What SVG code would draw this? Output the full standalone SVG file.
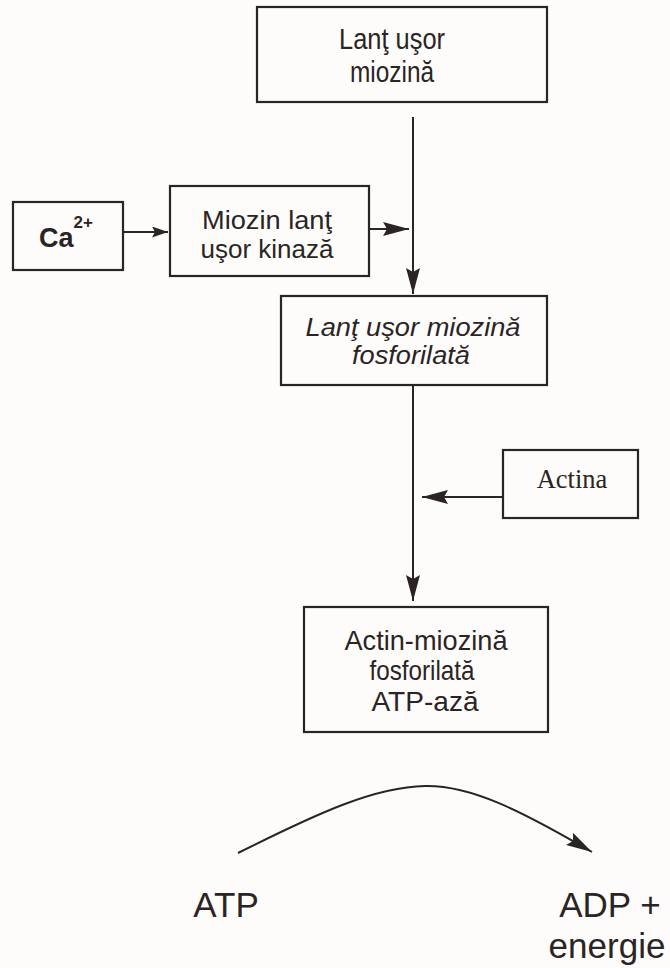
<svg xmlns="http://www.w3.org/2000/svg" width="670" height="968" viewBox="0 0 670 968">
  <style>
    .box { fill: none; stroke: #2b2424; stroke-width: 2.2; }
    .t { font-family: "Liberation Sans", Arial, sans-serif; fill: #2b2424; text-anchor: middle; }
    .serif { font-family: "Liberation Serif", "Times New Roman", serif; fill: #2b2424; text-anchor: middle; }
    .ln { fill: none; stroke: #2b2424; stroke-width: 2; }
  </style>
  <defs>
    <marker id="ahBig" viewBox="0 0 26 14" refX="26" refY="7" markerWidth="26" markerHeight="14" markerUnits="userSpaceOnUse" orient="auto">
      <path d="M0,0 L26,7 L0,14 L4,7 z" fill="#2b2424"/>
    </marker>
    <marker id="ahSmall" viewBox="0 0 16 11" refX="16" refY="5.5" markerWidth="16" markerHeight="11" markerUnits="userSpaceOnUse" orient="auto">
      <path d="M0,0 L16,5.5 L0,11 L3,5.5 z" fill="#2b2424"/>
    </marker>
  </defs>
  <rect width="670" height="968" fill="#fdfcfa"/>

  <g id="connectors">
    <line class="ln" x1="413" y1="117" x2="413" y2="294" marker-end="url(#ahBig)"/>
    <line class="ln" x1="123" y1="232" x2="168" y2="232" marker-end="url(#ahSmall)"/>
    <line class="ln" x1="369" y1="229" x2="409" y2="229" marker-end="url(#ahBig)"/>
    <line class="ln" x1="413" y1="385" x2="413" y2="601" marker-end="url(#ahBig)"/>
    <line class="ln" x1="503" y1="497" x2="422" y2="497" marker-end="url(#ahBig)"/>
    <path class="ln" d="M238,853 C320,812 375,787 425,786 C470,785 520,810 592,852" marker-end="url(#ahBig)"/>
  </g>

  <g id="node-lant-usor-miozina">
    <rect class="box" x="257" y="7" width="290" height="95"/>
    <text class="t" x="392" y="49" font-size="29" textLength="106" lengthAdjust="spacingAndGlyphs">Lanţ uşor</text>
    <text class="t" x="392" y="82" font-size="29" textLength="84" lengthAdjust="spacingAndGlyphs">miozină</text>
  </g>

  <g id="node-ca">
    <rect class="box" x="13" y="202" width="110" height="68"/>
    <text x="39" y="247" font-family="Liberation Sans, Arial, sans-serif" font-weight="bold" font-size="27" fill="#2b2424">Ca<tspan dy="-19" font-size="17">2+</tspan></text>
  </g>

  <g id="node-kinaza">
    <rect class="box" x="170" y="186" width="199" height="90"/>
    <text class="t" x="267" y="229" font-size="26" textLength="130" lengthAdjust="spacingAndGlyphs">Miozin lanţ</text>
    <text class="t" x="267" y="258" font-size="26" textLength="133" lengthAdjust="spacingAndGlyphs">uşor kinază</text>
  </g>

  <g id="node-fosforilata">
    <rect class="box" x="281" y="296" width="266" height="89"/>
    <text class="t" x="413" y="336" font-size="25" font-style="italic" textLength="215" lengthAdjust="spacingAndGlyphs">Lanţ uşor miozină</text>
    <text class="t" x="411" y="364" font-size="25" font-style="italic" textLength="118" lengthAdjust="spacingAndGlyphs">fosforilată</text>
  </g>

  <g id="node-actina">
    <rect class="box" x="503" y="450" width="135" height="68"/>
    <text class="serif" x="572" y="488" font-size="26.5">Actina</text>
  </g>

  <g id="node-atpaza">
    <rect class="box" x="304" y="607" width="244" height="125"/>
    <text class="t" x="426" y="650" font-size="28" textLength="163" lengthAdjust="spacingAndGlyphs">Actin-miozină</text>
    <text class="t" x="422" y="680" font-size="28" textLength="105" lengthAdjust="spacingAndGlyphs">fosforilată</text>
    <text class="t" x="425" y="711" font-size="28" textLength="107" lengthAdjust="spacingAndGlyphs">ATP-ază</text>
  </g>

  <g id="node-atp">
    <text class="t" x="226" y="917" font-size="35">ATP</text>
  </g>

  <g id="node-adp">
    <text class="t" x="610" y="917" font-size="35">ADP +</text>
    <text class="t" x="607" y="958" font-size="35">energie</text>
  </g>
</svg>
